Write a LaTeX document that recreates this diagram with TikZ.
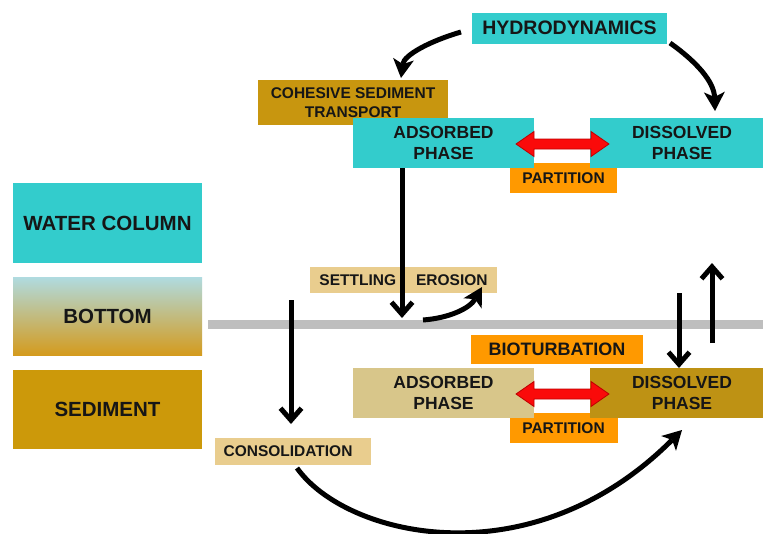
\documentclass[tikz,border=0pt]{standalone}
\usepackage{fontspec}
\setmainfont{Liberation Sans}
\usetikzlibrary{arrows.meta}
\definecolor{cyanbox}{RGB}{51,204,204}
\definecolor{goldbox}{RGB}{204,153,10}
\definecolor{cstbox}{RGB}{200,150,15}
\definecolor{disbox}{RGB}{190,146,20}
\definecolor{adsbox}{RGB}{216,198,138}
\definecolor{tanbox}{RGB}{233,205,142}
\definecolor{orangebox}{RGB}{255,153,0}
\definecolor{txt}{RGB}{22,22,22}
\definecolor{botA}{RGB}{176,219,224}
\definecolor{botB}{RGB}{208,202,176}
\definecolor{botC}{RGB}{212,155,30}
\definecolor{grayline}{RGB}{190,190,190}
\definecolor{redarr}{RGB}{250,10,10}
\definecolor{rededge}{RGB}{190,0,0}
\begin{document}
\begin{tikzpicture}[x=1pt,y=-1pt,
  box/.style={rectangle, inner sep=0pt, align=center, text=txt},
  fbig/.style={font=\fontsize{20.5}{23}\selectfont\bfseries},
  fhyd/.style={font=\fontsize{19.5}{22}\selectfont\bfseries},
  fphase/.style={font=\fontsize{17.5}{21}\selectfont\bfseries},
  fmid/.style={font=\fontsize{15.5}{19}\selectfont\bfseries},
  fbio/.style={font=\fontsize{18}{20}\selectfont\bfseries},
  arr/.style={line width=5pt, draw=black, line cap=butt,
    -{Straight Barb[length=12pt,width=21pt]}},
  carr/.style={line width=5pt, draw=black, line cap=butt,
    -{Stealth[length=19pt,width=21pt,inset=5pt,line width=0pt]}},
  redblock/.style={fill=redarr, draw=rededge, line width=0.8pt, line join=miter}
]
\useasboundingbox (0,0) rectangle (763,533);
\fill[white] (0,0) rectangle (763,533);

% left legend
\node[box, fbig, fill=cyanbox, minimum width=189pt, minimum height=80pt] (wc) at (107.5,223) {WATER COLUMN};
\node[box, fbig, top color=botA, middle color=botB, bottom color=botC, minimum width=189pt, minimum height=78pt] (bot) at (107.5,316) {BOTTOM};
\node[box, fbig, fill=goldbox, minimum width=189pt, minimum height=79pt] (sed) at (107.5,409.5) {SEDIMENT};

% bottom line
\coordinate (gl1) at (208,324.5);
\coordinate (gl2) at (763,324.5);
\draw[grayline, line width=9pt] (gl1) -- (gl2);

% top part
\node[box, fhyd, fill=cyanbox, minimum width=195pt, minimum height=31pt] (hyd) at (569.5,28) {HYDRODYNAMICS};
\node[box, fmid, fill=cstbox, minimum width=190pt, minimum height=45pt] (cst) at (353,102.5) {COHESIVE SEDIMENT\\TRANSPORT};
\node[box, fmid, fill=orangebox, minimum width=107pt, minimum height=30pt] (partT) at (563.5,178) {PARTITION};
\node[box, fphase, fill=cyanbox, minimum width=181pt, minimum height=50pt] (adsT) at (443.5,143) {ADSORBED\\PHASE};
\node[box, fphase, fill=cyanbox, minimum width=184pt, minimum height=50pt] (disT) at (682,143) {DISSOLVED\\PHASE};

% middle labels
\node[box, fmid, fill=tanbox, minimum width=187pt, minimum height=26pt] (set) at (403.5,280) {SETTLING\hspace{20pt}EROSION};
\node[box, fmid, fill=tanbox, minimum width=156pt, minimum height=27pt] (cons) at (293,451.5) {\hspace{-10pt}CONSOLIDATION};

% bottom part
\node[box, fbio, fill=orangebox, minimum width=172pt, minimum height=29pt] (bio) at (557,349) {BIOTURBATION};
\node[box, fmid, fill=orangebox, minimum width=108pt, minimum height=30pt] (partB) at (563.5,428) {PARTITION};
\node[box, fphase, fill=adsbox, minimum width=181pt, minimum height=50pt] (adsB) at (443.5,393) {ADSORBED\\PHASE};
\node[box, fphase, fill=disbox, minimum width=184pt, minimum height=50pt] (disB) at (682,393) {DISSOLVED\\PHASE};

% red double arrows (partition)
\begin{scope}[shift={(562.5,144)}]
\draw[redblock] (-46.5,0) -- (-28.5,-12.5) -- (-28.5,-5) -- (28.5,-5) -- (28.5,-12.5) -- (46.5,0) -- (28.5,12.5) -- (28.5,5) -- (-28.5,5) -- (-28.5,12.5) -- cycle;
\end{scope}
\begin{scope}[shift={(562.5,394)}]
\draw[redblock] (-46.5,0) -- (-28.5,-12.5) -- (-28.5,-5) -- (28.5,-5) -- (28.5,-12.5) -- (46.5,0) -- (28.5,12.5) -- (28.5,5) -- (-28.5,5) -- (-28.5,12.5) -- cycle;
\end{scope}

% arrow end points
\coordinate (h1s) at (461,32);
\coordinate (h1e) at (401,78);
\coordinate (h2s) at (670,43);
\coordinate (h2e) at (715,111);
\coordinate (sts) at (402,168);
\coordinate (ste) at (402,318);
\coordinate (ers) at (423,320);
\coordinate (ere) at (482,287);
\coordinate (cos) at (291,300);
\coordinate (coe) at (291,424);
\coordinate (dns) at (679,293);
\coordinate (dne) at (679,368);
\coordinate (ups) at (712,343);
\coordinate (upe) at (712,263);
\coordinate (bcs) at (297,468);
\coordinate (bce) at (682,430);

% arrows
\draw[carr] (h1s) .. controls (430,41) and (404,55) .. (h1e);
\draw[carr] (h2s) .. controls (697,62) and (714,82) .. (h2e);
\draw[arr] (sts) -- (ste);
\draw[carr] (ers) .. controls (450,318) and (470,308) .. (ere);
\draw[arr] (cos) -- (coe);
\draw[arr] (dns) -- (dne);
\draw[arr] (ups) -- (upe);
\draw[carr] (bcs) .. controls (346,537) and (531,581) .. (bce);
\end{tikzpicture}
\end{document}
